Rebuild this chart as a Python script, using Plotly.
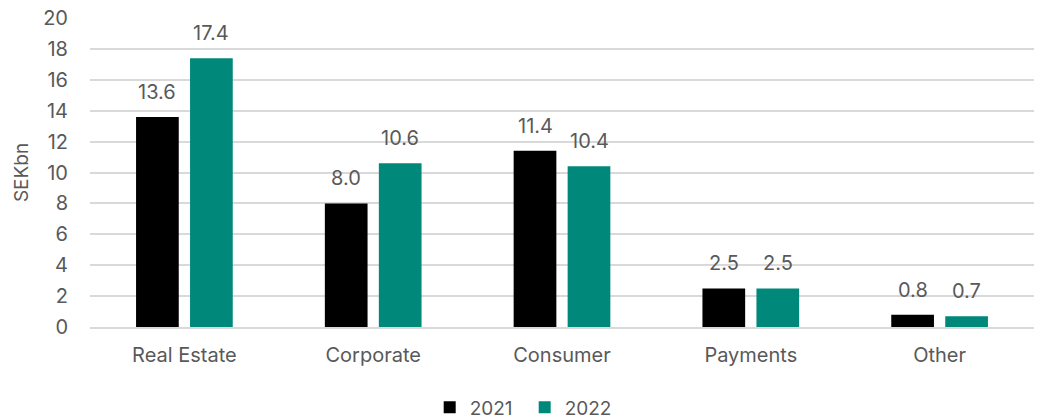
import plotly.graph_objects as go

categories = ["Real Estate", "Corporate", "Consumer", "Payments", "Other"]
values_2021 = [13.6, 8.0, 11.4, 2.5, 0.8]
values_2022 = [17.4, 10.6, 10.4, 2.5, 0.7]
y_ticks = [0, 2, 4, 6, 8, 10, 12, 14, 16, 18, 20]

FONT = "Inter, Roboto, sans-serif"
FONT_SIZE = 20
TEXT_GREY = "#595959"
series = [
    ("2021", values_2021, "#000000", -27),
    ("2022", values_2022, "#00897B", 27),
]

fig = go.Figure()
for name, vals, color, _ in series:
    fig.add_trace(go.Bar(
        name=name, x=categories, y=vals, marker_color=color,
        marker_line_width=0,
    ))

# value labels above each bar
annotations = []
for name, vals, color, shift in series:
    for cat, v in zip(categories, vals):
        annotations.append(dict(
            x=cat, y=v, text=f"{v:.1f}", showarrow=False,
            xanchor="center", yanchor="bottom", xshift=shift, yshift=11,
            font=dict(family=FONT, size=FONT_SIZE, color=TEXT_GREY),
        ))

fig.update_layout(
    width=1039, height=420,
    margin=dict(l=90, r=5, t=18, b=93, autoexpand=False),
    paper_bgcolor="white", plot_bgcolor="white",
    barmode="group", bargap=0.428, bargroupgap=0.209,
    font=dict(family=FONT, size=FONT_SIZE, color=TEXT_GREY),
    showlegend=True,
    legend=dict(orientation="h", xref="container", x=0.505, xanchor="center",
                yref="container", y=0.03, yanchor="middle",
                font=dict(family=FONT, size=19, color=TEXT_GREY),
                itemwidth=30, entrywidth=50, traceorder="normal"),
    annotations=annotations,
    xaxis=dict(showgrid=False, showline=True, linecolor="#d9d9d9", linewidth=1.5,
               ticks="", ticklabelstandoff=9,
               tickfont=dict(family=FONT, size=FONT_SIZE, color=TEXT_GREY)),
    yaxis=dict(range=[0, 20], tickvals=y_ticks, showgrid=True, gridcolor="#d9d9d9",
               gridwidth=1.5, zeroline=False, ticks="", ticklabelstandoff=21,
               title=dict(text="SEKbn", font=dict(family=FONT, size=19, color=TEXT_GREY),
                          standoff=9),
               tickfont=dict(family=FONT, size=FONT_SIZE, color=TEXT_GREY)),
)

fig.write_html("out.html")
